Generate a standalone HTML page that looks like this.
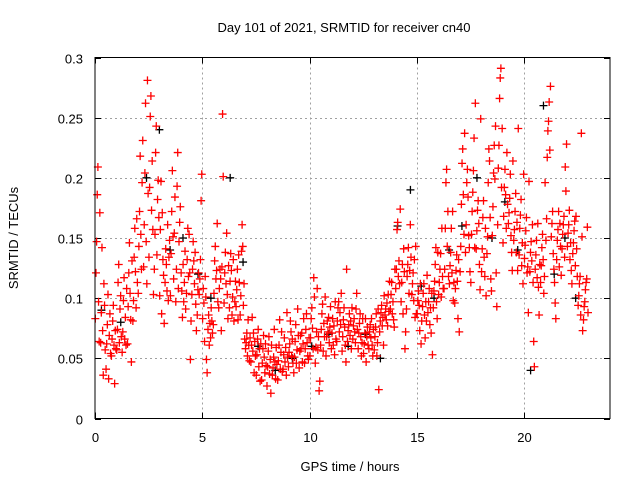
<!DOCTYPE html>
<html><head><meta charset="utf-8"><style>
body{margin:0;background:#fff}
svg{display:block;font-family:"Liberation Sans",sans-serif}
</style></head><body>
<svg id="chart" width="640" height="480" viewBox="0 0 640 480">
<text x="344" y="32" font-size="13" text-anchor="middle">Day 101 of 2021, SRMTID for receiver cn40</text>
<text x="350" y="471" font-size="13" text-anchor="middle">GPS time / hours</text>
<text transform="translate(18,238) rotate(-90)" font-size="13" text-anchor="middle">SRMTID / TECUs</text>
<g id="grid"></g>
<g id="ticks"></g>
<g id="black"></g>
<g id="red"></g>
<rect x="95" y="57.5" width="515" height="361" fill="none" stroke="#000" stroke-width="1"/>
</svg>
<script>
const xTicks=[0,5,10,15,20];
const yTicks=[0,0.05,0.1,0.15,0.2,0.25,0.3];
const yTickLabels=["0","0.05","0.1","0.15","0.2","0.25","0.3"];
const binStarts=[0,0.25,0.5,0.75,1,1.25,1.5,1.75,2,2.25,2.5,2.75,3,3.25,3.5,3.75,4,4.25,4.5,4.75,5,5.25,5.5,5.75,6,6.25,6.5,6.75,7,7.25,7.5,7.75,8,8.25,8.5,8.75,9,9.25,9.5,9.75,10,10.25,10.5,10.75,11,11.25,11.5,11.75,12,12.25,12.5,12.75,13,13.25,13.5,13.75,14,14.25,14.5,14.75,15,15.25,15.5,15.75,16,16.25,16.5,16.75,17,17.25,17.5,17.75,18,18.25,18.5,18.75,19,19.25,19.5,19.75,20,20.25,20.5,20.75,21,21.25,21.5,21.75,22,22.25,22.5,22.75];
const redValues=[
[0.083,0.121,0.147,0.186,0.209,0.097,0.064,0.171],[0.063,0.088,0.142,0.073,0.036,0.112,0.094,0.057],[0.041,0.062,0.078,0.103,0.033,0.069,0.087,0.054],[0.052,0.066,0.081,0.094,0.061,0.029,0.073,0.058],
[0.057,0.074,0.113,0.128,0.063,0.091,0.102,0.068],[0.055,0.072,0.098,0.117,0.066,0.084,0.061,0.108],[0.062,0.093,0.121,0.146,0.104,0.082,0.047,0.131],[0.081,0.098,0.134,0.158,0.122,0.092,0.166,0.113],
[0.104,0.143,0.172,0.218,0.153,0.124,0.196,0.231],[0.126,0.161,0.204,0.262,0.147,0.112,0.281,0.187],[0.134,0.192,0.251,0.268,0.173,0.214,0.157,0.103],[0.124,0.153,0.221,0.243,0.136,0.182,0.198,0.167],
[0.102,0.157,0.197,0.087,0.171,0.132,0.119,0.079],[0.113,0.141,0.128,0.106,0.161,0.098,0.134,0.148],[0.102,0.137,0.172,0.206,0.151,0.116,0.154,0.184],[0.097,0.124,0.193,0.221,0.108,0.147,0.163,0.176],
[0.121,0.106,0.084,0.128,0.097,0.113,0.139,0.091],[0.104,0.132,0.158,0.118,0.153,0.121,0.049,0.081],[0.103,0.124,0.147,0.131,0.112,0.138,0.095,0.073],[0.086,0.107,0.121,0.103,0.116,0.132,0.181,0.203],
[0.083,0.108,0.096,0.064,0.118,0.101,0.049,0.038],[0.074,0.086,0.061,0.079,0.067,0.092,0.081,0.071],[0.078,0.104,0.131,0.143,0.116,0.123,0.162,0.097],[0.092,0.108,0.124,0.116,0.073,0.126,0.253,0.201],
[0.096,0.121,0.138,0.112,0.154,0.103,0.083,0.127],[0.092,0.114,0.137,0.123,0.086,0.101,0.132,0.081],[0.097,0.114,0.093,0.107,0.124,0.082,0.136,0.113],[0.086,0.102,0.139,0.161,0.143,0.094,0.112,0.066],
[0.058,0.063,0.071,0.052,0.082,0.061,0.048,0.067],[0.047,0.061,0.084,0.056,0.071,0.038,0.064,0.052],[0.036,0.053,0.066,0.074,0.043,0.058,0.031,0.062],[0.032,0.046,0.058,0.069,0.051,0.038,0.062,0.044],
[0.027,0.043,0.056,0.068,0.037,0.049,0.021,0.061],[0.036,0.042,0.051,0.074,0.047,0.033,0.059,0.045],[0.032,0.048,0.061,0.082,0.041,0.055,0.072,0.039],[0.041,0.053,0.067,0.047,0.059,0.036,0.088,0.051],
[0.043,0.055,0.062,0.081,0.072,0.052,0.066,0.046],[0.038,0.051,0.064,0.078,0.046,0.057,0.091,0.069],[0.042,0.056,0.069,0.058,0.071,0.047,0.062,0.083],[0.046,0.058,0.074,0.087,0.063,0.052,0.049,0.067],
[0.052,0.067,0.083,0.092,0.075,0.058,0.117,0.101],[0.046,0.059,0.072,0.108,0.057,0.068,0.023,0.031],[0.061,0.074,0.087,0.095,0.056,0.079,0.068,0.101],[0.052,0.068,0.081,0.072,0.084,0.063,0.076,0.093],
[0.058,0.071,0.083,0.061,0.077,0.053,0.097,0.066],[0.064,0.081,0.092,0.097,0.072,0.088,0.078,0.104],[0.056,0.068,0.082,0.092,0.076,0.061,0.047,0.124],[0.064,0.073,0.078,0.087,0.069,0.081,0.058,0.092],
[0.066,0.077,0.083,0.072,0.063,0.091,0.104,0.074],[0.058,0.071,0.079,0.087,0.068,0.052,0.063,0.083],[0.054,0.062,0.071,0.083,0.047,0.068,0.076,0.061],[0.058,0.072,0.078,0.067,0.083,0.061,0.052,0.074],
[0.057,0.068,0.076,0.087,0.052,0.063,0.091,0.024],[0.072,0.081,0.088,0.094,0.077,0.084,0.061,0.102],[0.086,0.091,0.082,0.096,0.077,0.103,0.089,0.114],[0.091,0.103,0.113,0.087,0.097,0.082,0.076,0.124],
[0.108,0.124,0.157,0.163,0.118,0.131,0.112,0.174],[0.097,0.113,0.128,0.087,0.141,0.122,0.058,0.072],[0.091,0.118,0.128,0.142,0.104,0.123,0.161,0.134],[0.103,0.112,0.121,0.098,0.132,0.084,0.143,0.087],
[0.087,0.098,0.106,0.094,0.073,0.112,0.062,0.081],[0.093,0.104,0.112,0.086,0.067,0.097,0.081,0.119],[0.088,0.097,0.108,0.078,0.092,0.071,0.104,0.053],[0.092,0.106,0.114,0.128,0.142,0.097,0.083,0.138],
[0.103,0.113,0.124,0.137,0.101,0.158,0.118,0.108],[0.108,0.124,0.158,0.196,0.207,0.143,0.172,0.118],[0.112,0.127,0.138,0.158,0.121,0.172,0.098,0.113],[0.096,0.108,0.123,0.136,0.114,0.083,0.132,0.072],
[0.122,0.143,0.178,0.212,0.224,0.186,0.153,0.237],[0.138,0.161,0.196,0.207,0.184,0.152,0.142,0.122],[0.113,0.153,0.172,0.188,0.206,0.233,0.142,0.262],[0.141,0.156,0.173,0.181,0.162,0.128,0.107,0.249],
[0.122,0.141,0.167,0.181,0.134,0.118,0.158,0.102],[0.137,0.151,0.196,0.224,0.214,0.167,0.116,0.106],[0.152,0.176,0.204,0.227,0.199,0.243,0.121,0.093],[0.161,0.208,0.227,0.266,0.283,0.291,0.192,0.241],
[0.146,0.168,0.192,0.207,0.186,0.158,0.221,0.178],[0.162,0.171,0.183,0.203,0.152,0.138,0.123,0.214],[0.148,0.157,0.172,0.187,0.138,0.163,0.123,0.241],[0.136,0.158,0.169,0.182,0.127,0.146,0.112,0.203],
[0.133,0.144,0.156,0.167,0.121,0.126,0.088,0.197],[0.122,0.138,0.147,0.131,0.161,0.113,0.064,0.043],[0.124,0.136,0.148,0.117,0.162,0.109,0.086,0.128],[0.113,0.127,0.142,0.153,0.132,0.104,0.118,0.196],
[0.148,0.166,0.217,0.239,0.247,0.263,0.223,0.276],[0.151,0.162,0.172,0.137,0.124,0.113,0.096,0.083],[0.132,0.148,0.157,0.172,0.126,0.162,0.143,0.119],[0.141,0.153,0.161,0.168,0.134,0.209,0.189,0.228],
[0.143,0.154,0.161,0.173,0.132,0.146,0.123,0.112],[0.137,0.146,0.156,0.164,0.127,0.168,0.141,0.118],[0.094,0.102,0.112,0.118,0.086,0.237,0.151,0.073],[0.082,0.093,0.097,0.107,0.113,0.116,0.159,0.088]
];
const blackTimes=[0.3,1.2,2.4,3.0,3.5,4.1,4.8,5.4,6.3,6.9,7.6,8.4,9.2,10.1,10.9,11.8,12.6,13.3,14.1,14.7,15.2,15.8,16.5,17.1,17.8,18.5,19.1,19.7,20.3,20.9,21.4,21.9,22.4];
const blackValues=[0.09,0.08,0.2,0.24,0.14,0.15,0.12,0.1,0.2,0.13,0.06,0.04,0.05,0.06,0.07,0.06,0.07,0.05,0.16,0.19,0.11,0.1,0.14,0.16,0.2,0.15,0.18,0.14,0.04,0.26,0.12,0.15,0.1];

const NS="http://www.w3.org/2000/svg";
const X0=95,X1=610,Y0=418.5,Y1=57.5,XMAX=24,YMAX=0.3;
function xs(t){return X0+(t/XMAX)*(X1-X0);}
function ys(v){return Y0-(v/YMAX)*(Y0-Y1);}
const grid=document.getElementById('grid'),ticks=document.getElementById('ticks');
function line(g,x1,y1,x2,y2,stroke,dash,name){
  const l=document.createElementNS(NS,'line');
  l.setAttribute('x1',x1);l.setAttribute('y1',y1);l.setAttribute('x2',x2);l.setAttribute('y2',y2);
  l.setAttribute('stroke',stroke);l.setAttribute('stroke-width',1);
  if(dash)l.setAttribute('stroke-dasharray',dash);
  
  
  g.appendChild(l);
}
function text(g,x,y,s,anchor,name){
  const t=document.createElementNS(NS,'text');
  t.setAttribute('x',x);t.setAttribute('y',y);t.setAttribute('font-size',13);t.setAttribute('text-anchor',anchor);
  t.textContent=s;
  
  
  g.appendChild(t);
}
xTicks.forEach(t=>{
  const x=Math.round(xs(t))+0.5;
  if(t>0)line(grid,x,Y1,x,Y0,'#a0a0a0','2,3','x-grid-line');
  line(ticks,x,Y0,x,Y0-6,'#000',null,'x-tick');
  line(ticks,x,Y1,x,Y1+6,'#000',null,'x-tick');
  text(ticks,x,442,String(t),'middle','x-tick-label');
});
yTicks.forEach((v,i)=>{
  const y=Math.round(ys(v))+0.5;
  if(v>0&&v<YMAX)line(grid,X0,y,X1,y,'#a0a0a0','2,3','y-grid-line');
  line(ticks,X0,y,X0+6,y,'#000',null,'y-tick');
  line(ticks,X1,y,X1-6,y,'#000',null,'y-tick');
  text(ticks,83,y+5,yTickLabels[i],'end','y-tick-label');
});
function plus(g,t,v,color,name){
  const x=xs(t),y=ys(v);
  const p=document.createElementNS(NS,'path');
  p.setAttribute('d',`M${x-4},${y}H${x+4}M${x},${y-4}V${y+4}`);
  p.setAttribute('stroke',color);p.setAttribute('stroke-width',1.3);
  
  
  g.appendChild(p);
}
const blackG=document.getElementById('black'),redG=document.getElementById('red');
blackTimes.forEach((t,i)=>plus(blackG,t,blackValues[i],'#000','black-point'));
binStarts.forEach((b,i)=>{
  redValues[i].forEach((v,j)=>plus(redG,b+0.03*j+0.015,v,'#ff0000','red-point'));
});
</script>
</body></html>
